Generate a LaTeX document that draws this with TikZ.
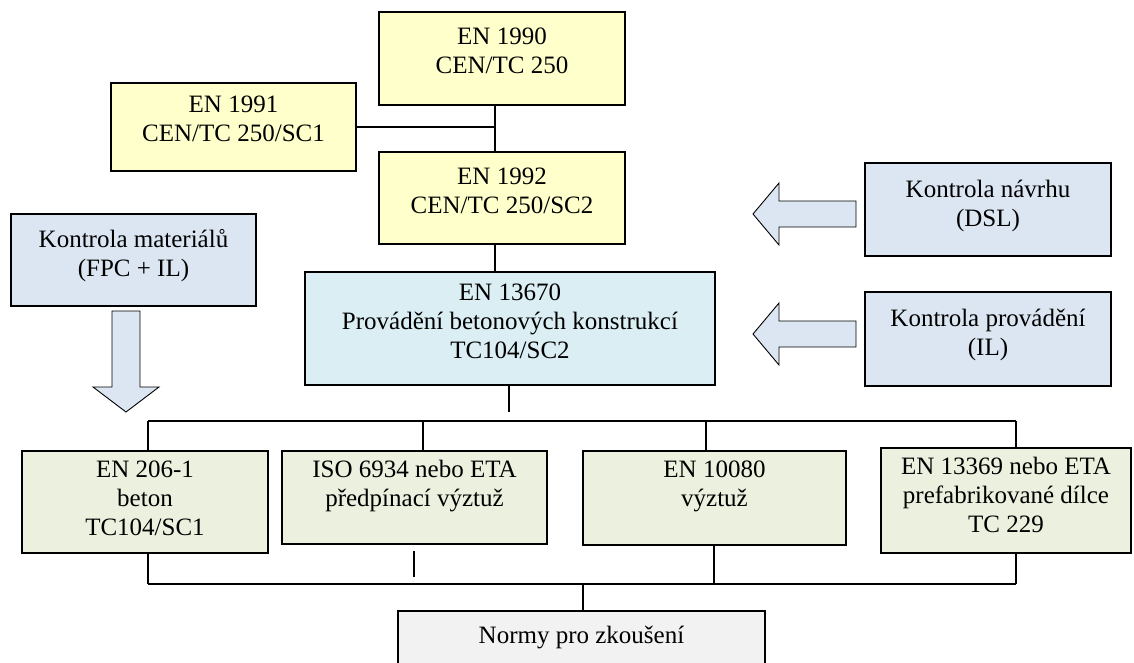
\documentclass[tikz,border=0pt]{standalone}
\usepackage{fontspec}
\setmainfont{Liberation Serif}
\definecolor{cyel}{HTML}{FFFFCC}
\definecolor{cblu}{HTML}{DCE6F2}
\definecolor{ccya}{HTML}{DAEEF3}
\definecolor{cgrn}{HTML}{EBF1DE}
\definecolor{cgry}{HTML}{F2F2F2}
\begin{document}
\begin{tikzpicture}[x=1pt,y=-1pt,
  boxy/.style={draw=black, line width=1.8pt, inner sep=0pt, rectangle},
  txt/.style={anchor=north, inner sep=0pt, align=center, font=\fontsize{25}{29}\selectfont},
  conn/.style={draw=black, line width=1.1pt},
  bus/.style={draw=black, line width=1.8pt},
  fatarrow/.style={draw=black, line width=0.9pt, fill=cblu, line join=miter}]
\useasboundingbox (0,0) rectangle (1134,662);
\clip (0,0) rectangle (1134,662);
% boxes
\node[boxy, fill=cyel, minimum width=246pt, minimum height=93pt] (en1990) at (502,58.5) {};
\node[boxy, fill=cyel, minimum width=245pt, minimum height=88pt] (en1991) at (233.5,127) {};
\node[boxy, fill=cyel, minimum width=246pt, minimum height=92pt] (en1992) at (502,198) {};
\node[boxy, fill=cblu, minimum width=245pt, minimum height=92pt] (kmat) at (133.5,260) {};
\node[boxy, fill=ccya, minimum width=410pt, minimum height=113pt] (en13670) at (510,328.5) {};
\node[boxy, fill=cblu, minimum width=246pt, minimum height=93pt] (knav) at (988,209.5) {};
\node[boxy, fill=cblu, minimum width=246pt, minimum height=94pt] (kprov) at (988,339) {};
\node[boxy, fill=cgrn, minimum width=246pt, minimum height=102pt] (en206) at (145,502) {};
\node[boxy, fill=cgrn, minimum width=265pt, minimum height=93pt] (iso) at (414.5,497.5) {};
\node[boxy, fill=cgrn, minimum width=263pt, minimum height=94pt] (en10080) at (714.5,498) {};
\node[boxy, fill=cgrn, minimum width=250pt, minimum height=105pt] (en13369) at (1006,500.5) {};
\node[boxy, fill=cgry, minimum width=367pt, minimum height=89pt] (normy) at (581.5,655.5) {};
% texts
\node[txt] (t1990) at ([yshift=-13pt]en1990.north) {\strut EN 1990\\CEN/TC 250};
\node[txt] (t1991) at ([yshift=-10pt]en1991.north) {\strut EN 1991\\CEN/TC 250/SC1};
\node[txt] (t1992) at ([yshift=-13pt]en1992.north) {\strut EN 1992\\CEN/TC 250/SC2};
\node[txt] (tkmat) at ([yshift=-14pt]kmat.north) {\strut Kontrola materiálů\\(FPC + IL)};
\node[txt] (t13670) at ([yshift=-9pt]en13670.north) {\strut EN 13670\\Provádění betonových konstrukcí\\TC104/SC2};
\node[txt] (tknav) at ([yshift=-15pt]knav.north) {\strut Kontrola návrhu\\(DSL)};
\node[txt] (tkprov) at ([yshift=-15pt]kprov.north) {\strut Kontrola provádění\\(IL)};
\node[txt] (t206) at ([yshift=-7pt]en206.north) {\strut EN 206-1\\beton\\TC104/SC1};
\node[txt] (tiso) at ([yshift=-7pt]iso.north) {\strut ISO 6934 nebo ETA\\předpínací výztuž};
\node[txt] (t10080) at ([yshift=-7pt]en10080.north) {\strut EN 10080\\výztuž};
\node[txt] (t13369) at ([yshift=-7pt]en13369.north) {\strut EN 13369 nebo ETA\\prefabrikované dílce\\TC 229};
\node[txt] (tnormy) at ([yshift=-13pt]normy.north) {\strut Normy pro zkoušení};
% connectors
\coordinate (vx) at (495,0);
\draw[conn] (en1990.south -| vx) -- (en1992.north -| vx);
\draw[conn] (en1991.east) -- (en1991.east -| vx);
\draw[conn] (en1992.south -| vx) -- (en13670.north -| vx);
\coordinate (b1) at (509,412);
\draw[conn] (en13670.south -| b1) -- (b1);
\coordinate (ua) at (148,421);
\coordinate (ub) at (423,421);
\coordinate (uc) at (706,421);
\coordinate (ud) at (1016,421);
\draw[conn] (ua) -- (ud);
\draw[conn] (ua) -- (ua |- en206.north);
\draw[conn] (ub) -- (ub |- iso.north);
\draw[conn] (uc) -- (uc |- en10080.north);
\draw[conn] (ud) -- (ud |- en13369.north);
\coordinate (la) at (148,584);
\coordinate (lb) at (414,577);
\coordinate (lbt) at (414,551);
\coordinate (lc) at (714,584);
\coordinate (ld) at (1016,584);
\coordinate (nx) at (583,584);
\draw[conn] (en206.south -| la) -- (la);
\draw[conn] (lbt) -- (lb);
\draw[conn] (en10080.south -| lc) -- (lc);
\draw[conn] (en13369.south -| ld) -- (ld);
\draw[bus] (la) -- (ld);
\draw[conn] (nx) -- (normy.north -| nx);
% block arrows
\draw[fatarrow] (856,201) -- (779,201) -- (779,183) -- (753,214) -- (779,245) -- (779,227) -- (856,227) -- cycle;
\draw[fatarrow] (856,321) -- (779,321) -- (779,303) -- (753,334) -- (779,365) -- (779,347) -- (856,347) -- cycle;
\draw[fatarrow] (112,311) -- (140,311) -- (140,387) -- (159,387) -- (126,412) -- (93,387) -- (112,387) -- cycle;
\end{tikzpicture}
\end{document}
